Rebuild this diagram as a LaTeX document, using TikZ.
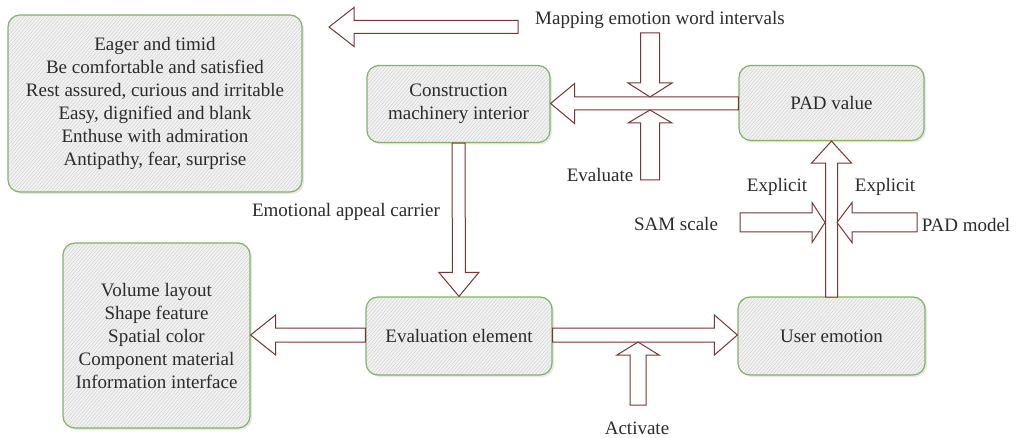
\documentclass[tikz,border=0pt]{standalone}
\usepackage{fontspec}
\setmainfont{Liberation Serif}
\usetikzlibrary{calc,patterns.meta,shadows}
\definecolor{arrc}{HTML}{7A3535}
\definecolor{boxg}{HTML}{82B366}
\definecolor{txt}{HTML}{2B2B2B}
\tikzset{
  box/.style={draw=boxg, line width=1.2pt, rounded corners=12pt,
    preaction={fill=gray!10, drop shadow={opacity=0.18, shadow xshift=2pt, shadow yshift=-2pt}},
    pattern={Lines[angle=50,distance=2.6pt,line width=0.4pt]}, pattern color=gray!40,
    text=txt, align=center, font=\fontsize{19}{23}\selectfont, inner sep=0pt},
  lbl/.style={text=txt, font=\fontsize{19}{23}\selectfont, inner sep=0pt},
  barr/.style={draw=arrc, line width=1pt, fill=white, line join=miter},
}
% block arrow: from, to, shaft half width, head half width, head length
\newcommand\barrow[5]{%
  \path ($(#2)!#5!(#1)$) coordinate (hb);
  \draw[barr] ($(#1)!#3!90:(#2)$) -- ($(hb)!#3!-90:(#1)$) -- ($(hb)!#4!-90:(#1)$)
    -- (#2) -- ($(hb)!#4!90:(#1)$) -- ($(hb)!#3!90:(#1)$) -- ($(#1)!#3!-90:(#2)$) -- cycle;
}
\begin{document}
\begin{tikzpicture}[x=1pt,y=-1pt]
\useasboundingbox (0,0) rectangle (1019,438);
% boxes
\node[box, minimum width=294pt, minimum height=177pt] (words) at (155,103.5)
  {Eager and timid\\Be comfortable and satisfied\\Rest assured, curious and irritable\\Easy, dignified and blank\\Enthuse with admiration\\Antipathy, fear, surprise};
\node[box, minimum width=183pt, minimum height=77pt] (cmi) at (458.5,104)
  {Construction\\machinery interior};
\node[box, minimum width=185pt, minimum height=75pt] (pad) at (831.5,103) {PAD value};
\node[box, minimum width=187pt, minimum height=185pt] (elems) at (156.5,335.5)
  {Volume layout\\Shape feature\\Spatial color\\Component material\\Information interface};
\node[box, minimum width=186pt, minimum height=78pt] (ee) at (459,336) {Evaluation element};
\node[box, minimum width=187pt, minimum height=78pt] (ue) at (831.5,336) {User emotion};
% labels
\node[lbl] (lmap) at (660,20) {Mapping emotion word intervals};
\node[lbl] (leval) at (600,175) {Evaluate};
\node[lbl] (lcar) at (346,212) {Emotional appeal carrier};
\node[lbl] (lact) at (637,428) {Activate};
\node[lbl] (lex1) at (777,187) {Explicit};
\node[lbl] (lex2) at (885,187) {Explicit};
\node[lbl] (lsam) at (676,224) {SAM scale};
\node[lbl] (lpadm) at (966,225) {PAD model};
% coordinates
\coordinate (maptail) at (518,27);
\coordinate (maptip) at (329,27);
\coordinate (jtop) at (650,97);
\coordinate (jbot) at (650,110);
\coordinate (mapdn) at (650,33);
\coordinate (evup) at (650,180);
\coordinate (actup) at (638,405);
\coordinate (actj) at (638,342);
\coordinate (samtail) at (740,222.5);
\coordinate (samtip) at (825,222.5);
\coordinate (padmtail) at (917,222.5);
\coordinate (padmtip) at (837,222.5);
% arrows
\barrow{maptail}{maptip}{6.5pt}{19.5pt}{25pt}
\barrow{pad.west |- 0,103.5}{cmi.east |- 0,103.5}{6.5pt}{20pt}{24pt}
\barrow{mapdn}{jtop}{9.5pt}{22pt}{14pt}
\barrow{evup}{jbot}{9.5pt}{22pt}{13pt}
\barrow{cmi.south}{ee.north}{6.5pt}{20pt}{24pt}
\barrow{ee.west |- 0,335}{elems.east |- 0,335}{7pt}{20pt}{25pt}
\barrow{ee.east |- 0,335}{ue.west |- 0,335}{7pt}{20pt}{23pt}
\barrow{actup}{actj}{8pt}{21pt}{13pt}
\barrow{ue.north |- 0,297}{pad.south}{6pt}{20pt}{22pt}
\barrow{samtail}{samtip}{9.5pt}{20pt}{13pt}
\barrow{padmtail}{padmtip}{9.5pt}{20pt}{15pt}
\end{tikzpicture}
\end{document}
